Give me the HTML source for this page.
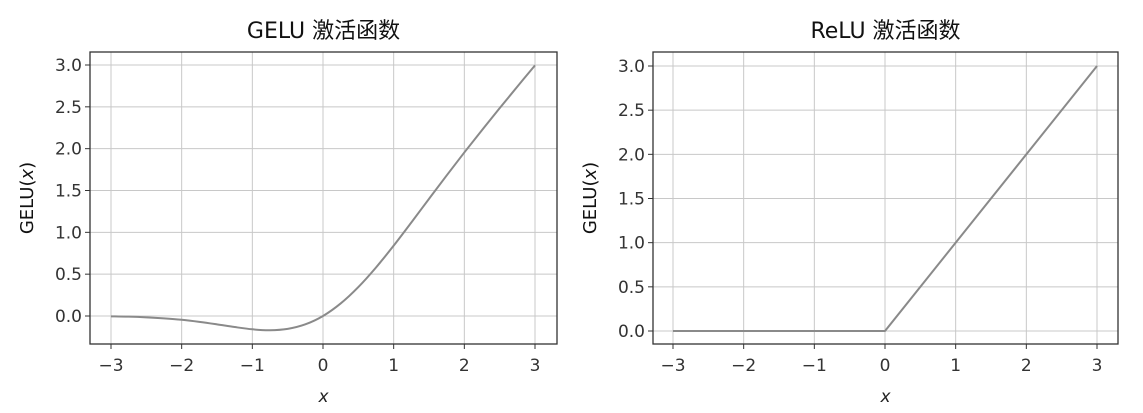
<!DOCTYPE html>
<html><head><meta charset="utf-8"><style>
html,body{margin:0;padding:0;background:#fff;}
svg{display:block;font-family:"DejaVu Sans","Liberation Sans","Noto Sans CJK SC",sans-serif;}
</style></head><body>
<svg id="c" width="1143" height="413" viewBox="0 0 1143 413" xmlns="http://www.w3.org/2000/svg"></svg>
<script>
const xTicks=[-3,-2,-1,0,1,2,3];
const xTickLabels=["−3","−2","−1","0","1","2","3"];
const yTicks=[0,0.5,1,1.5,2,2.5,3];
const yTickLabels=["0.0","0.5","1.0","1.5","2.0","2.5","3.0"];
const geluX=[-3,-2.75,-2.5,-2.25,-2,-1.75,-1.5,-1.25,-1,-0.75,-0.5,-0.25,0,0.25,0.5,0.75,1,1.25,1.5,1.75,2,2.25,2.5,2.75,3];
const geluY=[-0.004,-0.008,-0.016,-0.028,-0.045,-0.07,-0.1,-0.132,-0.159,-0.17,-0.154,-0.1,0,0.15,0.346,0.58,0.841,1.118,1.4,1.68,1.955,2.222,2.484,2.742,2.996];
const reluX=[-3,0,3];
const reluY=[0,0,3];
const NS="http://www.w3.org/2000/svg";
const svg=document.getElementById('c');
function mk(tag,attrs,parent){const e=document.createElementNS(NS,tag);for(const k in attrs)e.setAttribute(k,attrs[k]);(parent||svg).appendChild(e);return e;}
function panel(p){
  const g=mk('g',{});
  
  
  const sx=v=>p.x0+(v-(-3))*(p.x1-p.x0)/6;
  const sy=v=>p.y0+(v-0)*(p.y3-p.y0)/3;
  for(let i=0;i<xTicks.length;i++){
    const x=sx(xTicks[i]);
    const gl=mk('line',{x1:x,x2:x,y1:p.top,y2:p.bot,stroke:'#c8c8c8','stroke-width':1},g);
    
    
    mk('line',{x1:x,x2:x,y1:p.bot,y2:p.bot+5,stroke:'#333','stroke-width':1},g);
    const t=mk('text',{x:x,y:p.bot+27,'font-size':17,'text-anchor':'middle',fill:'#333'},g);
    t.textContent=xTickLabels[i];
    
    
  }
  for(let i=0;i<yTicks.length;i++){
    const y=sy(yTicks[i]);
    const gl=mk('line',{x1:p.left,x2:p.right,y1:y,y2:y,stroke:'#c8c8c8','stroke-width':1},g);
    
    
    mk('line',{x1:p.left-5,x2:p.left,y1:y,y2:y,stroke:'#333','stroke-width':1},g);
    const t=mk('text',{x:p.left-8,y:y+6,'font-size':17,'text-anchor':'end',fill:'#333'},g);
    t.textContent=yTickLabels[i];
    
    
  }
  const fr=mk('rect',{x:p.left,y:p.top,width:p.right-p.left,height:p.bot-p.top,fill:'none',stroke:'#333','stroke-width':1.3},g);
  
  
  const P=p.xs.map((v,i)=>[sx(v),sy(p.ys[i])]);
  let d='M'+P[0][0].toFixed(2)+','+P[0][1].toFixed(2);
  for(let i=0;i<P.length-1;i++){
    if(!p.smooth){d+='L'+P[i+1][0].toFixed(2)+','+P[i+1][1].toFixed(2);continue;}
    const a=P[Math.max(0,i-1)],b=P[i],c=P[i+1],e=P[Math.min(P.length-1,i+2)];
    const c1=[b[0]+(c[0]-a[0])/6,b[1]+(c[1]-a[1])/6],c2=[c[0]-(e[0]-b[0])/6,c[1]-(e[1]-b[1])/6];
    d+='C'+c1.map(v=>v.toFixed(2)).join(',')+' '+c2.map(v=>v.toFixed(2)).join(',')+' '+c[0].toFixed(2)+','+c[1].toFixed(2);
  }
  const ln=mk('path',{d:d,fill:'none',stroke:'#8a8a8a','stroke-width':2,'stroke-linejoin':'round'},g);
  
  
  const tt=mk('text',{x:(p.left+p.right)/2,y:38,'font-size':22,'text-anchor':'middle',fill:'#111'},g);
  tt.textContent=p.title;
  
  
  const xl=mk('text',{x:(p.left+p.right)/2,y:402,'font-size':17,'text-anchor':'middle','font-style':'italic',fill:'#222'},g);
  xl.textContent='x';
  
  
  const yl=mk('text',{x:0,y:0,'font-size':18,'text-anchor':'middle',fill:'#111',transform:'translate('+p.ylx+','+((p.top+p.bot)/2)+') rotate(-90)'},g);
  yl.innerHTML='GELU(<tspan font-style="italic">x</tspan>)';
  
  
}
panel({name:'gelu-panel',lineName:'gelu-line',title:'GELU 激活函数',left:90,right:557,top:52,bot:344,x0:111,x1:535,y0:316,y3:65,xs:geluX,ys:geluY,ylx:33,smooth:true});
panel({name:'relu-panel',lineName:'relu-line',title:'ReLU 激活函数',left:653,right:1118,top:52,bot:344,x0:673,x1:1097,y0:331,y3:66,xs:reluX,ys:reluY,ylx:596,smooth:false});
</script>
</body></html>
